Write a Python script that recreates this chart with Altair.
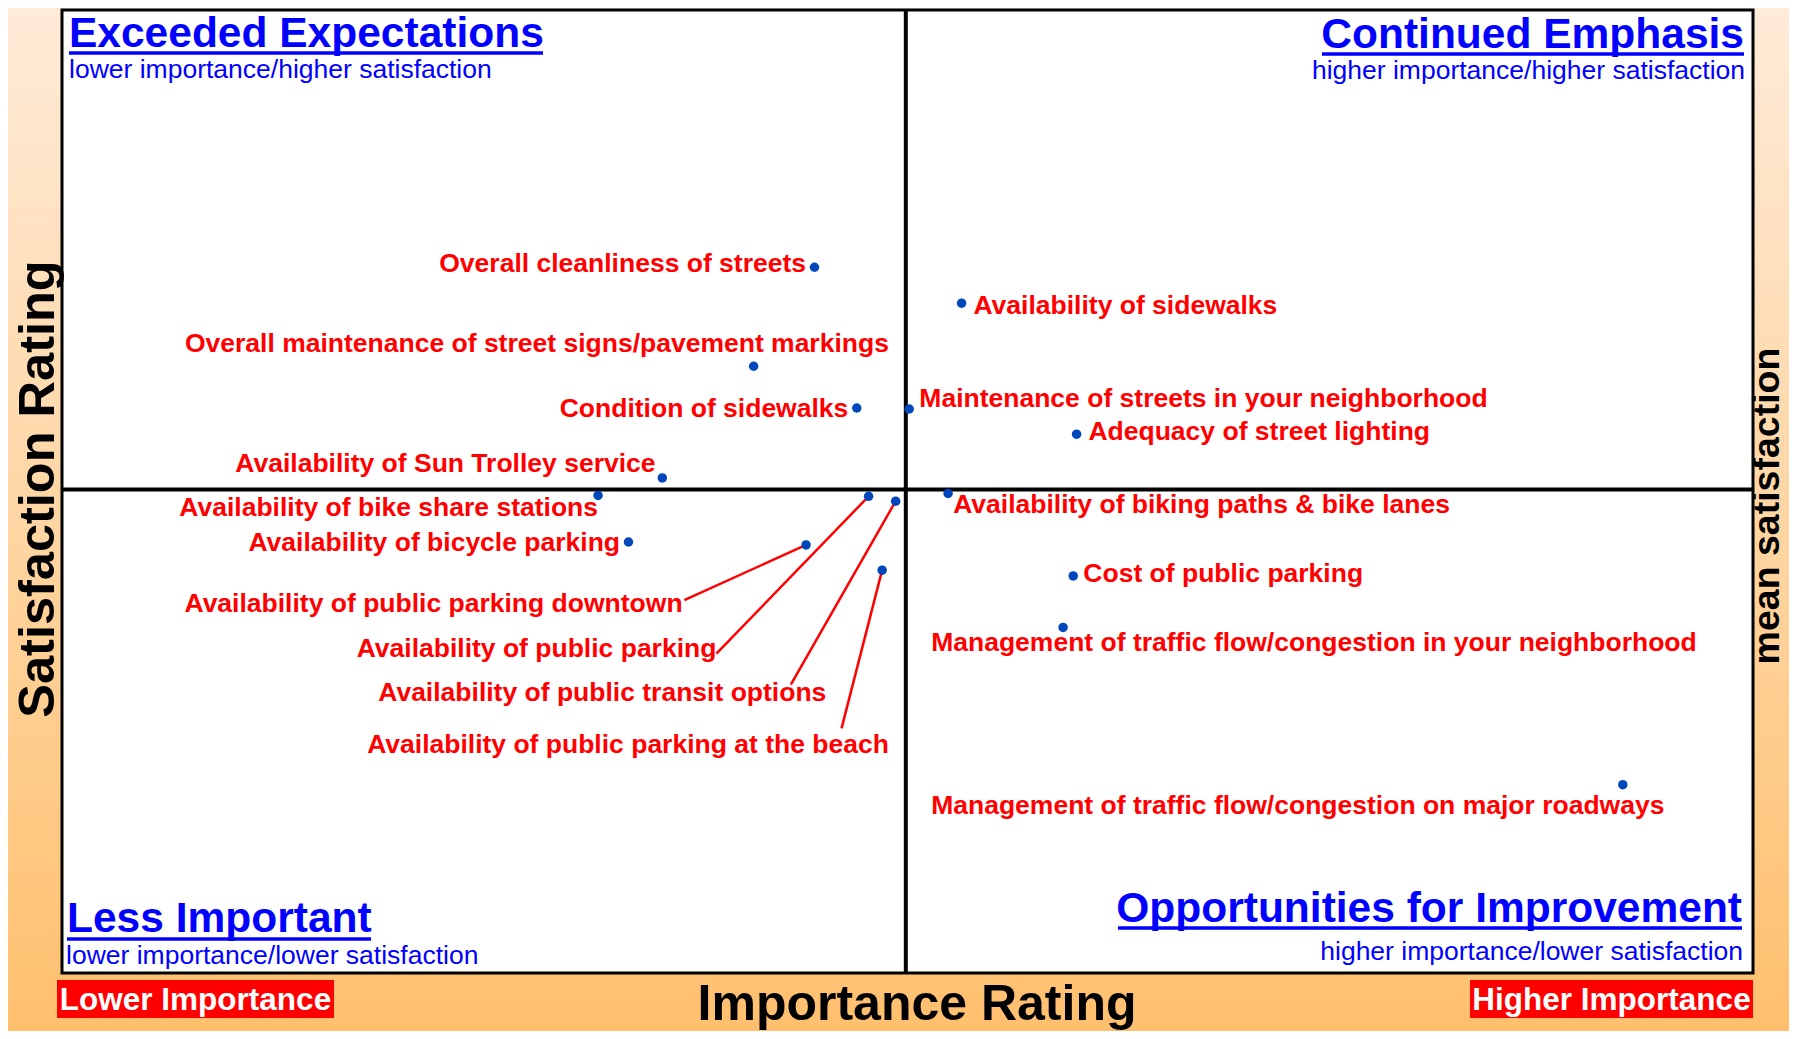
import altair as alt
import pandas as pd

# ---------------- data ----------------
items = [
    "Overall cleanliness of streets",
    "Availability of sidewalks",
    "Overall maintenance of street signs/pavement markings",
    "Condition of sidewalks",
    "Maintenance of streets in your neighborhood",
    "Adequacy of street lighting",
    "Availability of Sun Trolley service",
    "Availability of bike share stations",
    "Availability of biking paths & bike lanes",
    "Availability of bicycle parking",
    "Availability of public parking downtown",
    "Availability of public parking",
    "Availability of public transit options",
    "Availability of public parking at the beach",
    "Cost of public parking",
    "Management of traffic flow/congestion in your neighborhood",
    "Management of traffic flow/congestion on major roadways",
]
importance = [44.5, 53.2, 40.9, 47.0, 50.1, 60.0, 35.5, 31.7, 52.4, 33.5,
              44.0, 47.7, 49.3, 48.5, 59.8, 59.2, 92.3]
satisfaction = [72.7, 69.0, 62.5, 58.2, 58.1, 55.5, 51.0, 49.2, 49.4, 44.4,
                44.1, 49.1, 48.6, 41.5, 40.9, 35.6, 19.4]
# label anchor positions (data units)
label_imp = [44.0, 53.9, 48.9, 46.5, 50.7, 60.7, 35.1, 31.7, 52.7, 33.0,
             36.7, 38.7, 45.2, 48.9, 60.4, 51.4, 51.4]
label_sat = [73.0, 68.7, 64.8, 58.1, 59.1, 55.7, 52.4, 47.9, 48.2, 44.3,
             38.0, 33.4, 28.8, 23.5, 41.1, 34.0, 17.2]
label_side = ["right", "left", "right", "right", "left", "left", "right", "right",
              "left", "right", "right", "right", "right", "right", "left", "left", "left"]
# callout leader lines
leader_items = [
    "Availability of public parking downtown",
    "Availability of public parking",
    "Availability of public transit options",
    "Availability of public parking at the beach",
]
leader_imp = [36.8, 38.7, 43.1, 46.1]
leader_sat = [38.4, 32.9, 29.7, 25.2]

imp_mean = [49.9]
sat_mean = [49.8]

# ---------------- layout ----------------
W, H = 1691, 963
PL, PT, PR, PB = 54, 2, 36, 58
FONT = "Liberation Sans"
BLUE = "#0000FF"
RED = "#FF0000"
DOT = "#0047BB"

xs = alt.Scale(domain=[0, 100], nice=False, zero=False)
ys = alt.Scale(domain=[0, 99.2], nice=False, zero=False)

pts = pd.DataFrame({"item": items, "imp": importance, "sat": satisfaction,
                    "limp": label_imp, "lsat": label_sat, "side": label_side})
lead = pd.DataFrame({"item": leader_items, "fimp": leader_imp, "fsat": leader_sat})
lead = lead.merge(pts[["item", "imp", "sat"]], on="item")
one = pd.DataFrame({"k": [0]})

bg = alt.Chart(one).mark_rect(
    color=alt.Gradient(
        gradient="linear",
        stops=[alt.GradientStop(color="#FEEBD8", offset=0),
               alt.GradientStop(color="#FFC06E", offset=1)],
        x1=0, x2=0, y1=0, y2=1,
    )
).encode(x=alt.value(-PL), x2=alt.value(W + PR), y=alt.value(-PT), y2=alt.value(H + PB))

box = alt.Chart(one).mark_rect(fill="white", stroke="black", strokeWidth=3).encode(
    x=alt.value(0), x2=alt.value(W), y=alt.value(0), y2=alt.value(H))

vline = alt.Chart(pd.DataFrame({"m": imp_mean})).mark_rule(color="black", strokeWidth=4).encode(
    x=alt.X("m:Q", scale=xs, axis=None))
hline = alt.Chart(pd.DataFrame({"m": sat_mean})).mark_rule(color="black", strokeWidth=4).encode(
    y=alt.Y("m:Q", scale=ys, axis=None))

leaders = alt.Chart(lead).mark_rule(color=RED, strokeWidth=2.5).encode(
    x=alt.X("fimp:Q", scale=xs, axis=None), x2="imp:Q",
    y=alt.Y("fsat:Q", scale=ys, axis=None), y2="sat:Q")

dots = alt.Chart(pts).mark_circle(color=DOT, opacity=1, size=90).encode(
    x=alt.X("imp:Q", scale=xs, axis=None),
    y=alt.Y("sat:Q", scale=ys, axis=None))

def labels(side):
    return alt.Chart(pts).transform_filter(alt.datum.side == side).mark_text(
        font=FONT, fontSize=26.5, fontWeight="bold", color=RED, align=side, baseline="middle"
    ).encode(x=alt.X("limp:Q", scale=xs, axis=None),
             y=alt.Y("lsat:Q", scale=ys, axis=None), text="item:N")

def txt(text, x, y, size, color, weight="bold", align="left", baseline="alphabetic", angle=0):
    kw = dict(text=text, font=FONT, fontSize=size, color=color, fontWeight=weight,
              align=align, baseline=baseline)
    if angle:
        kw["angle"] = angle
    return alt.Chart(one).mark_text(**kw).encode(x=alt.value(x), y=alt.value(y))

def uline(x1, x2, y, color=BLUE):
    return alt.Chart(one).mark_rule(color=color, strokeWidth=3.5).encode(
        x=alt.value(x1), x2=alt.value(x2), y=alt.value(y))

def rbox(x1, x2, y1, y2):
    return alt.Chart(one).mark_rect(color=RED).encode(
        x=alt.value(x1), x2=alt.value(x2), y=alt.value(y1), y2=alt.value(y2))

annots = [
    txt("Exceeded Expectations", 7, 37, 42.5, BLUE),
    uline(7, 481, 43),
    txt("lower importance/higher satisfaction", 7, 68, 26.5, BLUE, weight="normal"),
    txt("Continued Emphasis", 1682, 38, 42.5, BLUE, align="right"),
    uline(1260, 1682, 44),
    txt("higher importance/higher satisfaction", 1683, 69, 26.5, BLUE, weight="normal", align="right"),
    txt("Less Important", 5, 922, 42.5, BLUE),
    uline(5, 309, 929),
    txt("lower importance/lower satisfaction", 4, 954, 26.5, BLUE, weight="normal"),
    txt("Opportunities for Improvement", 1680, 912, 42.5, BLUE, align="right"),
    uline(1056, 1680, 918),
    txt("higher importance/lower satisfaction", 1681, 950, 26.5, BLUE, weight="normal", align="right"),
    rbox(-5, 272, 970, 1008),
    txt("Lower Importance", 133.5, 1000, 31.5, "white", align="center"),
    rbox(1408, 1691, 970, 1008),
    txt("Higher Importance", 1549.5, 1000, 31.5, "white", align="center"),
    txt("Importance Rating", 855, 1010, 50, "black", align="center"),
    txt("Satisfaction Rating", -23, 479, 50.5, "black", align="center", baseline="middle", angle=270),
    txt("mean satisfaction", 1706, 496, 37.5, "black", align="center", baseline="middle", angle=270),
]

chart = alt.layer(bg, box, vline, hline, leaders, dots, labels("right"), labels("left"), *annots).properties(
    width=W, height=H,
    padding={"left": PL, "top": PT, "right": PR, "bottom": PB},
    autosize=alt.AutoSizeParams(type="none"),
    background="#FEEBD8",
).configure_view(strokeWidth=0)

chart.save("out.html", embed_options={"renderer": "svg", "actions": False})
